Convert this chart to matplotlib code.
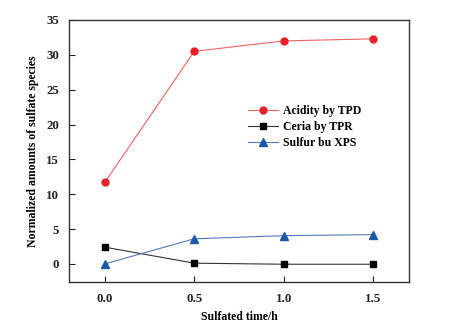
import matplotlib
matplotlib.use("Agg")
from matplotlib import pyplot as plt

# sulfation time and the three normalized quantities
time_h = [0.0, 0.5, 1.0, 1.5]
acidity_tpd = [11.7, 30.5, 32.0, 32.3]
ceria_tpr = [2.4, 0.1, -0.05, -0.05]
sulfur_xps = [0.0, 3.6, 4.05, 4.2]

plt.rcParams['font.family'] = ['Liberation Serif', 'DejaVu Serif']
plt.rcParams['font.weight'] = 'bold'

fig = plt.figure(figsize=(4.65, 3.28), dpi=100)
ax = fig.add_axes([69 / 465, 1 - 282 / 328, 340 / 465, 262 / 328])

ax.plot(time_h, acidity_tpd, color='#f06060', lw=0.8, marker='o', ms=5,
        mfc='#e8202a', mec='#e8202a', label='Acidity by TPD')
ax.plot(time_h, ceria_tpr, color='#333333', lw=0.8, marker='s', ms=5,
        mfc='black', mec='black', label='Ceria by TPR')
ax.plot(time_h, sulfur_xps, color='#5577bb', lw=0.8, marker='^', ms=5.5,
        mfc='#1a5aa8', mec='#1a5aa8', label='Sulfur bu XPS')

ax.set_xlim(-0.2, 1.7)
ax.set_ylim(-2.6, 35)
ax.set_xticks([0.0, 0.5, 1.0, 1.5])
ax.set_xticklabels(['0.0', '0.5', '1.0', '1.5'])
ax.set_yticks([0, 5, 10, 15, 20, 25, 30, 35])
ax.tick_params(direction='in', length=4, width=0.8, labelsize=9.3,
               colors='#222222')
ax.tick_params(axis='y', pad=7)
ax.tick_params(axis='x', pad=8)
ax.tick_params(top=False, right=False)
for s in ax.spines.values():
    s.set_color('#333333')
    s.set_linewidth(1.0)

ax.set_xlabel('Sulfated time/h', fontsize=8.5, fontweight='bold', labelpad=4)
ax.set_ylabel('Normalized amounts of sulfate species', fontsize=8.5,
              fontweight='bold', labelpad=5)

ax.legend(loc='upper left', bbox_to_anchor=(0.512, 0.695), frameon=False,
          fontsize=8.5, handlelength=2.6, handletextpad=0.4,
          labelspacing=0.35, borderaxespad=0)

fig.savefig('out.png', dpi=100)
